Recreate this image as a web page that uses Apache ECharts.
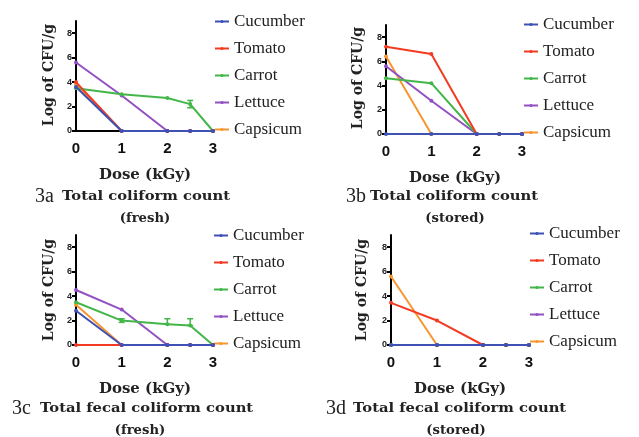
<!DOCTYPE html>
<html>
<head>
<meta charset="utf-8">
<script src="https://cdn.jsdelivr.net/npm/echarts@6/dist/echarts.min.js"></script>
<style>
  html, body { margin: 0; padding: 0; background: #fff; }
  #chart { width: 639px; height: 437px; }
</style>
</head>
<body>
<div id="chart"></div>
<script>
const crops = ["Cucumber", "Tomato", "Carrot", "Lettuce", "Capsicum"];
const doses = [0, 1, 2, 2.5, 3];
const yTicks = [0, 2, 4, 6, 8];
const xTicks = [0, 1, 2, 3];

// rows follow crops order, columns follow doses
const freshTotal = [
  [3.6, 0, 0, 0, 0],
  [4.0, 0, 0, 0, 0],
  [3.5, 3.0, 2.7, 2.2, 0],
  [5.6, 2.9, 0, 0, 0],
  [3.8, 0, 0, 0, 0],
];
const storedTotal = [
  [0, 0, 0, 0, 0],
  [7.2, 6.6, 0, 0, 0],
  [4.6, 4.2, 0, 0, 0],
  [5.6, 2.75, 0, 0, 0],
  [6.4, 0, 0, 0, 0],
];
const freshFecal = [
  [2.8, 0, 0, 0, 0],
  [0, 0, 0, 0, 0],
  [3.5, 2.0, 1.7, 1.6, 0],
  [4.5, 2.9, 0, 0, 0],
  [3.3, 0, 0, 0, 0],
];
const storedFecal = [
  [0, 0, 0, 0, 0],
  [3.45, 2.0, 0, 0, 0],
  [0, 0, 0, 0, 0],
  [0, 0, 0, 0, 0],
  [5.6, 0, 0, 0, 0],
];

// carrot error bars: [dose, low, high]
const carrotErrFresh = [[2.5, 1.9, 2.5]];
const carrotErrFecal = [[1, 1.85, 2.15], [2, 1.7, 2.15], [2.5, 1.6, 2.15]];

const panelLabels = ["3a", "3b", "3c", "3d"];
const panelTitles = ["Total coliform count", "Total coliform count",
  "Total fecal coliform count", "Total fecal coliform count"];
const panelSubs = ["(fresh)", "(stored)", "(fresh)", "(stored)"];

const colors = ["#3f51b5", "#f23b22", "#43b649", "#9350c2", "#f7962f"];

let chartDom = document.getElementById("chart");
let myChart = echarts.init(chartDom);
let option;

const panels = [
  { data: freshTotal, err: carrotErrFresh, grid: { left: 76, top: 21, width: 137, height: 110 },
    legend: { left: 214, top: 13 }, ytitle: [49, 75], xtitle: [145, 175],
    cap: [35, 62, 197], sub: [145, 219] },
  { data: storedTotal, err: [], grid: { left: 386, top: 25, width: 136, height: 109 },
    legend: { left: 523, top: 16 }, ytitle: [358, 78], xtitle: [455, 178],
    cap: [346, 370, 197], sub: [455, 219] },
  { data: freshFecal, err: carrotErrFecal, grid: { left: 76, top: 235, width: 137, height: 110 },
    legend: { left: 213, top: 227 }, ytitle: [49, 290], xtitle: [145, 389],
    cap: [12, 40, 409], sub: [140, 431] },
  { data: storedFecal, err: [], grid: { left: 391, top: 235, width: 138, height: 110 },
    legend: { left: 529, top: 225 }, ytitle: [362, 290], xtitle: [460, 389],
    cap: [326, 353, 409], sub: [456, 431] },
];

const serif = "DejaVu Serif";

let grids = [], xAxes = [], yAxes = [], legends = [], series = [], graphics = [];

panels.forEach((p, k) => {
  grids.push(p.grid);
  xAxes.push({
    type: "value", gridIndex: k, min: 0, max: 3, interval: 1,
    axisLine: { lineStyle: { color: "#000", width: 2 } },
    axisTick: { show: false },
    splitLine: { show: false },
    axisLabel: { color: "#111", fontWeight: "bold", fontSize: 15,
      fontFamily: "Liberation Sans", margin: 10, customValues: xTicks },
  });
  yAxes.push({
    type: "value", gridIndex: k, min: 0, max: 9,
    axisLine: { show: true, lineStyle: { color: "#000", width: 2 } },
    axisTick: { show: true, length: 4, lineStyle: { width: 2 }, customValues: yTicks },
    splitLine: { show: false },
    axisLabel: { color: "#222", fontWeight: "bold", fontSize: 9,
      fontFamily: "Liberation Sans", margin: 4, customValues: yTicks },
  });
  legends.push({
    orient: "vertical", left: p.legend.left, top: p.legend.top,
    padding: 0, itemWidth: 14, itemHeight: 4, itemGap: 10,
    data: crops,
    textStyle: { fontFamily: "Liberation Serif", fontSize: 17, color: "#222", lineHeight: 16 },
  });
  crops.forEach((c, i) => {
    series.push({
      name: c, type: "line", xAxisIndex: k, yAxisIndex: k,
      data: doses.map((d, j) => [d, p.data[i][j]]),
      z: 10 - i,
      symbol: "circle", symbolSize: 4,
      itemStyle: { color: colors[i] },
      lineStyle: { width: 2, color: colors[i] },
      silent: true, animation: false,
    });
  });
  if (p.err.length) {
    series.push({
      type: "custom", xAxisIndex: k, yAxisIndex: k, z: 12,
      data: p.err,
      renderItem: (params, api) => {
        const top = api.coord([api.value(0), api.value(2)]);
        const bot = api.coord([api.value(0), api.value(1)]);
        const st = { stroke: colors[2], lineWidth: 1.5 };
        return {
          type: "group",
          children: [
            { type: "line", shape: { x1: top[0], y1: top[1], x2: bot[0], y2: bot[1] }, style: st },
            { type: "line", shape: { x1: top[0] - 3, y1: top[1], x2: top[0] + 3, y2: top[1] }, style: st },
            { type: "line", shape: { x1: bot[0] - 3, y1: bot[1], x2: bot[0] + 3, y2: bot[1] }, style: st },
          ],
        };
      },
      silent: true, animation: false,
    });
  }
  graphics.push({
    type: "text", x: p.ytitle[0], y: p.ytitle[1], rotation: Math.PI / 2,
    style: { text: "Log of CFU/g", font: "bold 14px '" + serif + "'", fill: "#222",
      textAlign: "center", textVerticalAlign: "middle" },
  });
  graphics.push({
    type: "text", x: p.xtitle[0], y: p.xtitle[1], scaleX: 1.07,
    style: { text: "Dose (kGy)", font: "bold 14px '" + serif + "'", fill: "#222",
      textAlign: "center", textVerticalAlign: "middle" },
  });
  graphics.push({
    type: "text", x: p.cap[0], y: p.cap[2],
    style: { text: panelLabels[k], font: "20px 'Liberation Serif'", fill: "#222",
      textAlign: "left", textVerticalAlign: "middle" },
  });
  graphics.push({
    type: "text", x: p.cap[1], y: p.cap[2], scaleX: 1.23,
    style: { text: panelTitles[k], font: "bold 12px '" + serif + "'", fill: "#222",
      textAlign: "left", textVerticalAlign: "middle" },
  });
  graphics.push({
    type: "text", x: p.sub[0], y: p.sub[1], scaleX: 1.1,
    style: { text: panelSubs[k], font: "bold 12px '" + serif + "'", fill: "#222",
      textAlign: "center", textVerticalAlign: "middle" },
  });
});

option = {
  backgroundColor: "#fff",
  animation: false,
  grid: grids,
  xAxis: xAxes,
  yAxis: yAxes,
  legend: legends,
  series: series,
  graphic: { elements: graphics },
};

option && myChart.setOption(option);
</script>
</body>
</html>
